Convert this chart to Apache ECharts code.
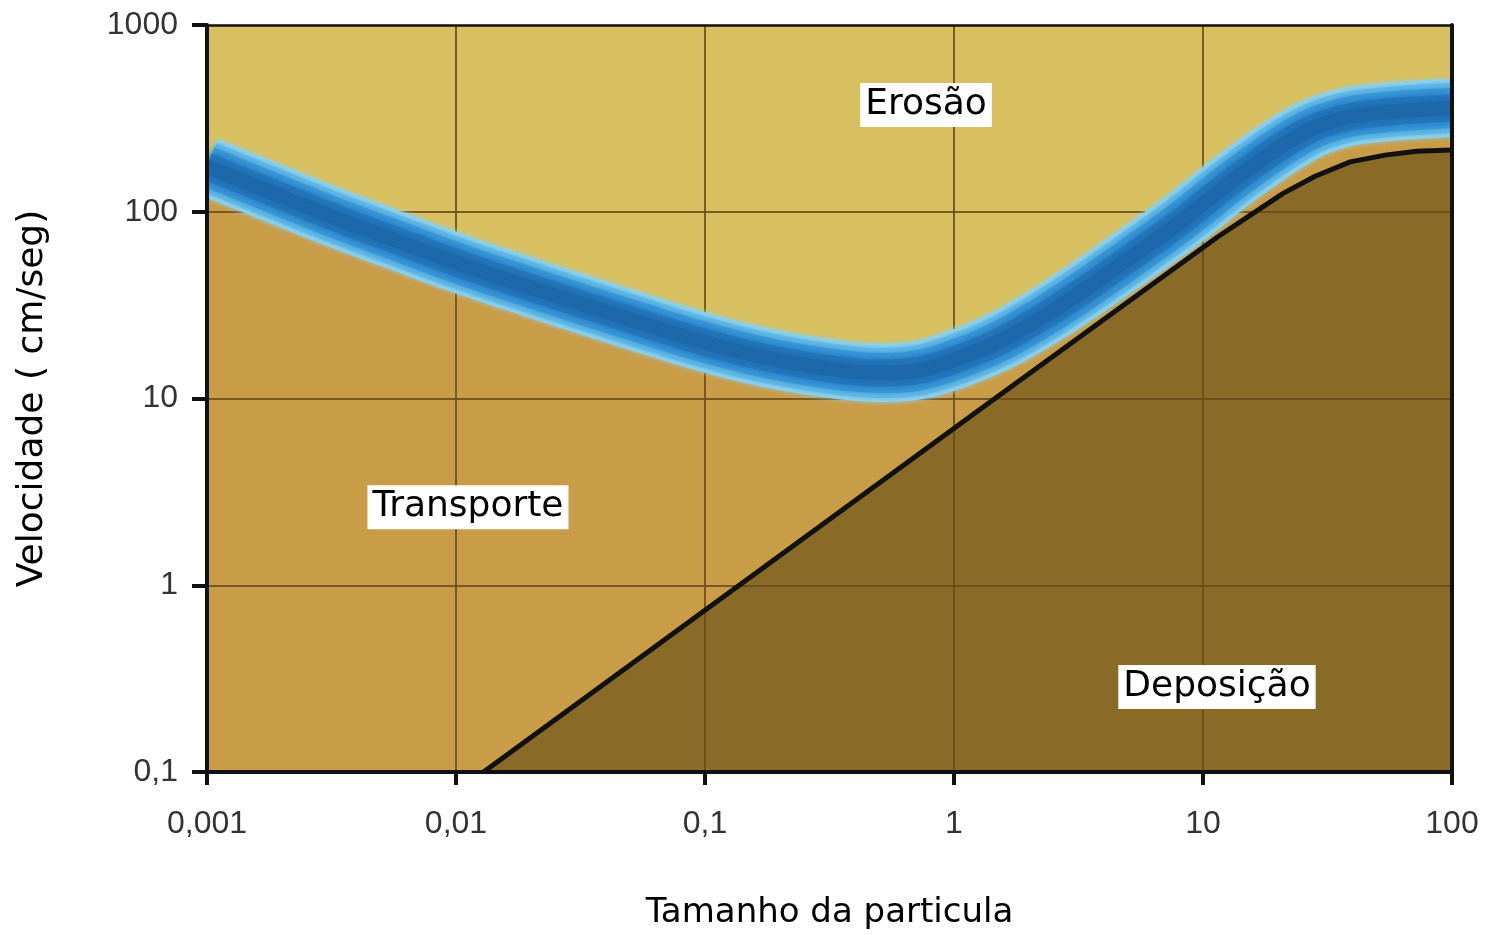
<!DOCTYPE html>
<html>
<head>
<meta charset="utf-8">
<script src="https://cdn.jsdelivr.net/npm/echarts@6/dist/echarts.min.js"></script>
<style>
html,body{margin:0;padding:0;background:#fff;}
#chart{width:1488px;height:935px;}
</style>
</head>
<body>
<div id="chart"></div>
<script>
// Tick labels
const xTickLabels = ['0,001', '0,01', '0,1', '1', '10', '100'];
const yTickLabels = ['0,1', '1', '10', '100', '1000'];

// Erosion threshold band (centre of the blue band)
const bandSize = [0.001, 0.00179, 0.00312, 0.00569, 0.01038, 0.01807, 0.0315, 0.0548, 0.0955, 0.1663, 0.2897, 0.5047, 0.730, 1.057, 1.530, 2.215, 3.206, 5.09, 8.09, 14.1, 24.5, 35.5, 50.5, 74.3, 100];
const bandVelocity = [175, 128, 95, 70.5, 52.5, 41, 32.2, 25.5, 20.3, 16.8, 14.7, 13.7, 14.2, 16.5, 20.3, 26.8, 36.8, 56.5, 88, 157, 258, 314, 338, 352, 359];

// Deposition boundary (black line)
const depSize = [0.0129, 1.46, 11.4, 15.5, 20.9, 28.2, 39, 53.8, 72, 100];
const depVelocity = [0.1, 10, 73, 96, 125, 155, 185, 201, 211, 214];

// Region labels
const regionNames = ['Erosão', 'Transporte', 'Deposição'];
const regionSize = [0.772, 0.01117, 11.38];
const regionVelocity = [373, 2.62, 0.285];

const xMin = 0.001, xMax = 100, yMin = 0.1, yMax = 1000;

const colErosion = '#d8c060';
const colTransport = '#c99c48';
const colDeposition = '#8a6a27';
const gridLineColor = '#6a4b1c';

const pairs = (xs, ys) => xs.map((x, i) => [x, ys[i]]);
const bandData = pairs(bandSize, bandVelocity);
const depData = pairs(depSize, depVelocity);
const labelData = regionNames.map((n, i) => ({ name: n, value: [regionSize[i], regionVelocity[i]] }));

const xFmt = v => xTickLabels[Math.round(Math.log10(v) - Math.log10(xMin))] || '';
const yFmt = v => yTickLabels[Math.round(Math.log10(v) - Math.log10(yMin))] || '';

const tickFont = { fontFamily: 'Liberation Sans', fontSize: 32, color: '#333' };

const chart = echarts.init(document.getElementById('chart'), null, { renderer: 'canvas' });

const baseX = { type: 'log', logBase: 10, min: xMin, max: xMax, splitNumber: 5 };
const baseY = { type: 'log', logBase: 10, min: yMin, max: yMax, splitNumber: 4 };

const bandLayer = (w, c, blur) => ({
  type: 'line', xAxisIndex: 0, yAxisIndex: 0, data: bandData,
  smooth: 0.4, showSymbol: false, symbol: 'none', z: 4, silent: true,
  lineStyle: { width: w, color: c, cap: 'butt', join: 'round', shadowBlur: blur || 0, shadowColor: c }
});

chart.setOption({
  animation: false,
  backgroundColor: '#ffffff',
  grid: { left: 207, right: 36, top: 25, bottom: 163, show: true, backgroundColor: colErosion, borderWidth: 0 },
  xAxis: [
    Object.assign({}, baseX, {
      position: 'bottom', z: 3,
      axisLine: { show: false }, axisTick: { show: false }, axisLabel: { show: false },
      splitLine: { show: true, lineStyle: { color: gridLineColor, width: 2, opacity: 0.85 } }
    }),
    Object.assign({}, baseX, {
      position: 'bottom', z: 10,
      axisLine: { show: true, onZero: false, lineStyle: { color: '#111', width: 4 } },
      axisTick: { show: true, inside: false, length: 13, lineStyle: { color: '#111', width: 4 } },
      axisLabel: Object.assign({ show: true, margin: 36, formatter: xFmt }, tickFont),
      splitLine: { show: false },
      name: 'Tamanho da particula', nameLocation: 'middle', nameGap: 124,
      nameTextStyle: { fontFamily: 'DejaVu Sans', fontSize: 34, color: '#000' }
    }),
    Object.assign({}, baseX, {
      position: 'top', z: 10,
      axisLine: { show: true, onZero: false, lineStyle: { color: '#111', width: 2.5 } },
      axisTick: { show: false }, axisLabel: { show: false }, splitLine: { show: false }
    })
  ],
  yAxis: [
    Object.assign({}, baseY, {
      position: 'left', z: 3,
      axisLine: { show: false }, axisTick: { show: false }, axisLabel: { show: false },
      splitLine: { show: true, lineStyle: { color: gridLineColor, width: 2, opacity: 0.85 } }
    }),
    Object.assign({}, baseY, {
      position: 'left', z: 10,
      axisLine: { show: true, onZero: false, lineStyle: { color: '#111', width: 4 } },
      axisTick: { show: true, inside: false, length: 15, lineStyle: { color: '#111', width: 4 } },
      axisLabel: Object.assign({ show: true, margin: 29, formatter: yFmt }, tickFont),
      splitLine: { show: false },
      name: 'Velocidade ( cm/seg)', nameLocation: 'middle', nameGap: 156, nameRotate: 90,
      nameTextStyle: { fontFamily: 'DejaVu Sans', fontSize: 36, color: '#000' }
    }),
    Object.assign({}, baseY, {
      position: 'right', z: 10,
      axisLine: { show: true, onZero: false, lineStyle: { color: '#111', width: 4 } },
      axisTick: { show: false }, axisLabel: { show: false }, splitLine: { show: false }
    })
  ],
  series: [
    { // transport region (below the band)
      type: 'line', xAxisIndex: 0, yAxisIndex: 0, data: bandData, smooth: 0.4,
      showSymbol: false, symbol: 'none', z: 1, silent: true,
      lineStyle: { width: 0 },
      areaStyle: { color: colTransport, opacity: 1, origin: 'start' }
    },
    { // deposition region
      type: 'line', xAxisIndex: 0, yAxisIndex: 0, data: depData, smooth: false,
      showSymbol: false, symbol: 'none', z: 2, silent: true,
      lineStyle: { width: 0 },
      areaStyle: { color: colDeposition, opacity: 1, origin: 'start' }
    },
    bandLayer(58, '#8ed2ec', 5),
    bandLayer(50, '#62b8e4', 4),
    bandLayer(40, '#3896d6', 4),
    bandLayer(27, '#2478be', 6),
    bandLayer(14, '#1d67ab', 8),
    { // deposition boundary line
      type: 'line', xAxisIndex: 0, yAxisIndex: 0, data: depData, smooth: false,
      showSymbol: false, symbol: 'none', z: 5, silent: true,
      lineStyle: { width: 5, color: '#111', join: 'round' }
    },
    { // region labels
      type: 'scatter', xAxisIndex: 0, yAxisIndex: 0, data: labelData, symbolSize: 0, z: 12, silent: true,
      itemStyle: { opacity: 1 },
      label: {
        show: true, position: 'inside', formatter: p => p.name,
        fontFamily: 'DejaVu Sans', fontSize: 36, color: '#000', opacity: 1,
        backgroundColor: '#ffffff', padding: [5, 5, 3, 5]
      }
    }
  ]
});

// Mask the stroke overflow of the thick band outside the plot rectangle
const tl = chart.convertToPixel({ xAxisIndex: 0, yAxisIndex: 0 }, [xMin, yMax]);
const br = chart.convertToPixel({ xAxisIndex: 0, yAxisIndex: 0 }, [xMax, yMin]);
const W = chart.getWidth(), H = chart.getHeight();
chart.setOption({
  graphic: [
    { type: 'rect', z: 8, silent: true, shape: { x: 0, y: 0, width: tl[0], height: H }, style: { fill: '#fff' } },
    { type: 'rect', z: 8, silent: true, shape: { x: br[0], y: 0, width: W - br[0], height: H }, style: { fill: '#fff' } },
    { type: 'rect', z: 8, silent: true, shape: { x: 0, y: 0, width: W, height: tl[1] }, style: { fill: '#fff' } }
  ]
});
</script>
</body>
</html>
